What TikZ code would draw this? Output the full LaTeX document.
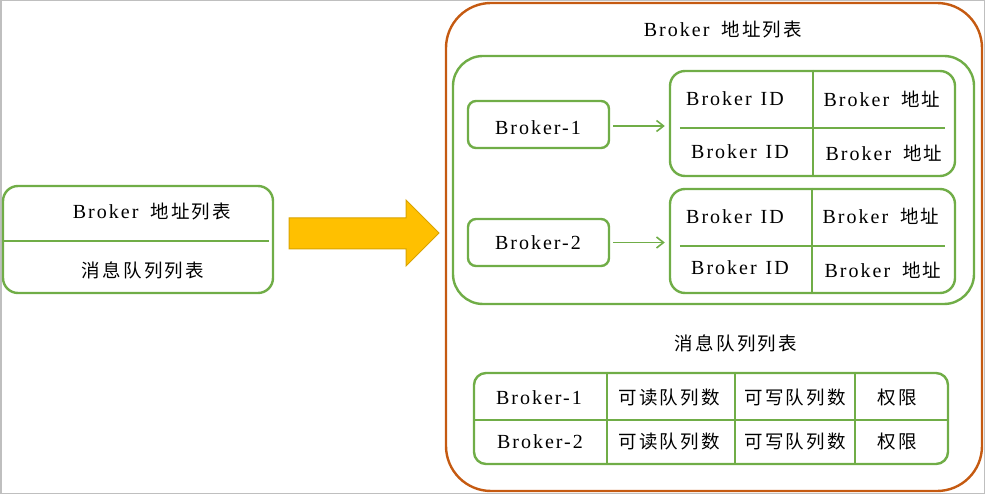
\documentclass[tikz,border=0pt]{standalone}
\usepackage{fontspec}
\setmainfont[LetterSpace=10]{Liberation Serif}
\newfontfamily\zhf[LetterSpace=12]{Noto Sans CJK SC}
\newcommand{\zh}[1]{{\zhf\fontsize{18.5}{22}\selectfont #1}}
\newcommand{\gap}{\hspace{12pt}}
\usetikzlibrary{arrows.meta}
\definecolor{grn}{HTML}{70AD47}
\definecolor{org}{HTML}{C55A11}
\definecolor{ylw}{HTML}{FFC000}
\definecolor{ylwedge}{HTML}{D9A300}
\tikzset{
  gbox/.style={draw=grn, line width=2.4pt, rounded corners=#1, inner sep=0pt},
  gbox/.default=10pt,
  obox/.style={draw=org, line width=2.4pt, rounded corners=45pt, inner sep=0pt},
  divline/.style={draw=grn, line width=2pt},
  garrow/.style={draw=grn, line width=1.6pt, -{Straight Barb[length=7pt,width=11pt,line width=1.6pt]}},
  txt/.style={inner sep=0pt, text=black},
  bigarrow/.style={fill=ylw, draw=ylwedge, line width=1pt}
}
\begin{document}
\begin{tikzpicture}[x=1pt,y=-1pt, font=\fontsize{20}{24}\selectfont]
\useasboundingbox (0,0) rectangle (985,494);
\draw[black!25, line width=1.5pt] (0.75,0.75) rectangle (984.25,493.25);

% left box
\node[gbox=15pt, minimum width=270pt, minimum height=107pt] (left) at (138,239.5) {};
\draw[divline] ([xshift=2pt,yshift=-2pt]left.west) -- ([xshift=-5pt,yshift=-2pt]left.east);
\node[txt] (lt1) at (152,212) {Broker\gap\zh{地址列表}};
\node[txt] (lt2) at (143,270) {\zh{消息队列列表}};

% big arrow
\coordinate (ba) at (289,233);
\draw[bigarrow] (ba) ++(0,-15) -- (406,218) -- (406,200) -- (439,233) -- (406,266) -- (406,249) -- (289,249) -- cycle;

% outer orange box
\node[obox, minimum width=536pt, minimum height=488pt] (outer) at (714,247) {};
\node[txt] (title) at (723,30) {Broker\gap\zh{地址列表}};

% inner green box
\node[gbox=30pt, minimum width=521pt, minimum height=248pt] (inner) at (713.5,180) {};

% Broker-1
\node[gbox=8pt, minimum width=141pt, minimum height=47pt] (b1) at (538.5,124.5) {};
\node[txt] (b1t) at (538,128) {Broker-1};
\node[gbox=15pt, minimum width=285pt, minimum height=105pt] (t1) at (812.5,123.5) {};
\draw[divline] ([xshift=0.5pt]t1.north) -- ([xshift=0.5pt]t1.south);
\draw[divline] ([xshift=11pt,yshift=-4.5pt]t1.west) -- ([xshift=-11pt,yshift=-4.5pt]t1.east);
\node[txt] (t1a) at (735,99) {Broker\hspace{9pt}ID};
\node[txt] (t1b) at (882,99) {Broker\gap\zh{地址}};
\node[txt] (t1c) at (740,152) {Broker\hspace{9pt}ID};
\node[txt] (t1d) at (884,153) {Broker\gap\zh{地址}};
\draw[garrow] ([xshift=3pt,yshift=-1.5pt]b1.east) -- ([xshift=-4pt,yshift=-1.5pt]b1.east -| t1.west);

% Broker-2
\node[gbox=8pt, minimum width=141pt, minimum height=47pt] (b2) at (538.5,242.5) {};
\node[txt] (b2t) at (538,243) {Broker-2};
\node[gbox=15pt, minimum width=285pt, minimum height=104pt] (t2) at (812.5,241) {};
\draw[divline] ([xshift=-0.5pt]t2.north) -- ([xshift=-0.5pt]t2.south);
\draw[divline] ([xshift=11pt,yshift=-5pt]t2.west) -- ([xshift=-11pt,yshift=-5pt]t2.east);
\node[txt] (t2a) at (735,217) {Broker\hspace{9pt}ID};
\node[txt] (t2b) at (881,216) {Broker\gap\zh{地址}};
\node[txt] (t2c) at (740,268) {Broker\hspace{9pt}ID};
\node[txt] (t2d) at (883,270) {Broker\gap\zh{地址}};
\draw[garrow] ([xshift=3pt]b2.east) -- ([xshift=-4pt]b2.east -| t2.west);

% queue table
\node[txt] (qtitle) at (736,343) {\zh{消息队列列表}};
\node[gbox=12pt, minimum width=474pt, minimum height=91pt] (q) at (711,418.5) {};
\draw[divline] ([yshift=-1.5pt]q.west) -- ([yshift=-1.5pt]q.east);
\draw[divline] ([xshift=-104pt]q.north) -- ([xshift=-104pt]q.south);
\draw[divline] ([xshift=24pt]q.north) -- ([xshift=24pt]q.south);
\draw[divline] ([xshift=144pt]q.north) -- ([xshift=144pt]q.south);
\node[txt] (q11) at (539,398) {Broker-1};
\node[txt] (q12) at (669,398) {\zh{可读队列数}};
\node[txt] (q13) at (795,398) {\zh{可写队列数}};
\node[txt] (q14) at (897,398) {\zh{权限}};
\node[txt] (q21) at (540,442) {Broker-2};
\node[txt] (q22) at (669,442) {\zh{可读队列数}};
\node[txt] (q23) at (795,442) {\zh{可写队列数}};
\node[txt] (q24) at (897,442) {\zh{权限}};
\end{tikzpicture}
\end{document}
